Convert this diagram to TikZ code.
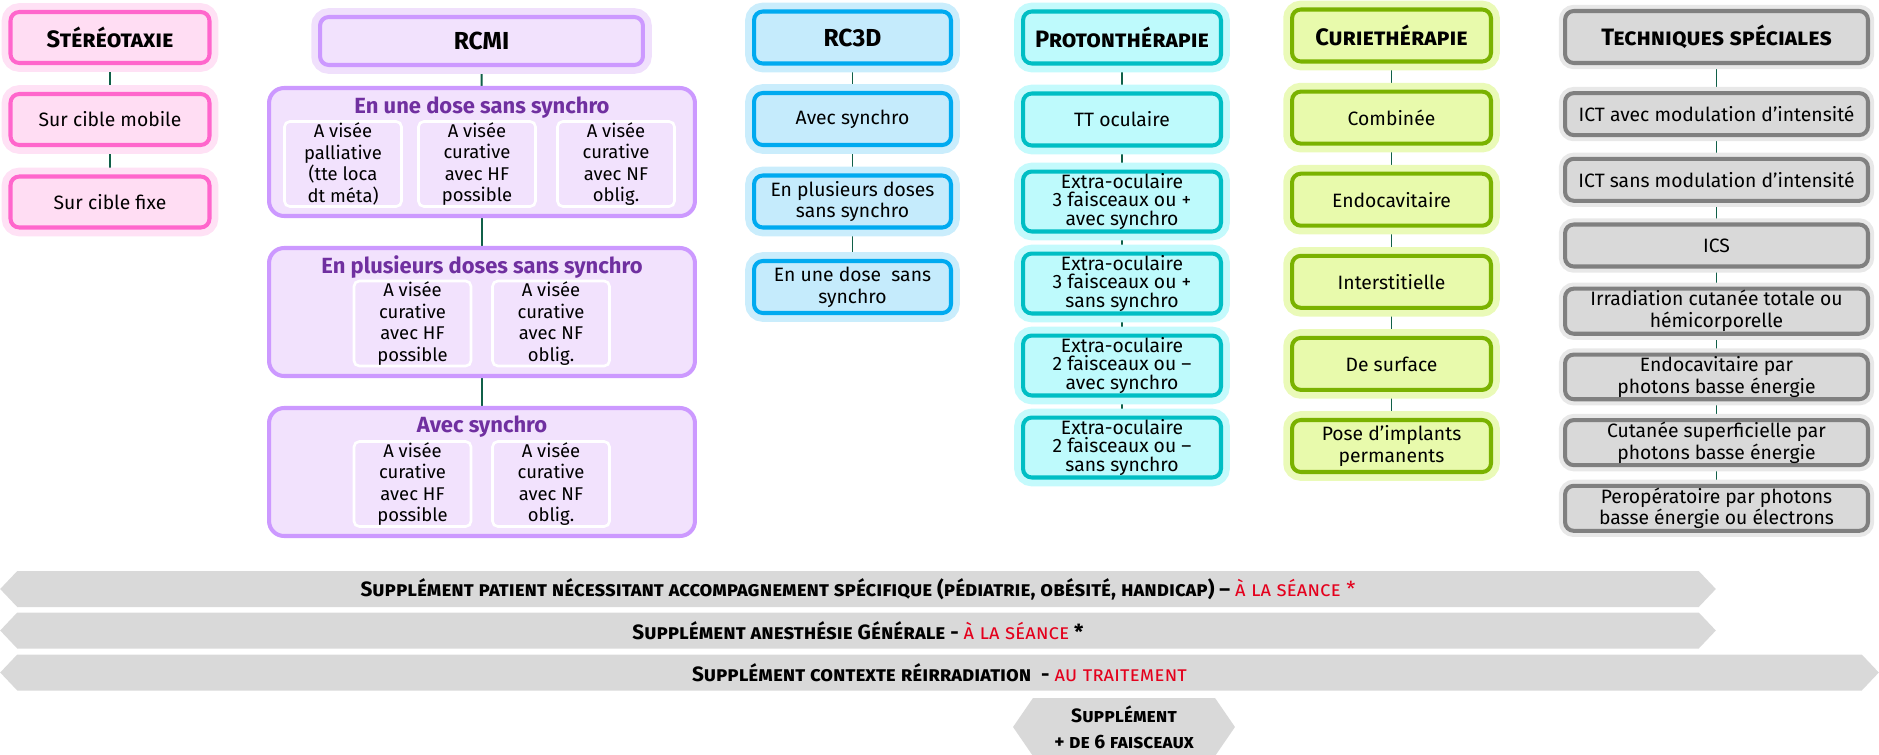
\documentclass[tikz,border=0pt]{standalone}
\usepackage{fontspec}
\setmainfont{Fira Sans}
\usetikzlibrary{positioning,shapes.symbols,backgrounds}
\definecolor{roseB}{RGB}{255,102,204}
\definecolor{roseF}{RGB}{255,221,243}
\definecolor{roseH}{RGB}{255,225,245}
\definecolor{violB}{RGB}{204,153,255}
\definecolor{violF}{RGB}{242,226,253}
\definecolor{violH}{RGB}{240,224,252}
\definecolor{violT}{RGB}{112,48,160}
\definecolor{bleuB}{RGB}{0,170,240}
\definecolor{bleuF}{RGB}{197,235,252}
\definecolor{bleuH}{RGB}{202,237,252}
\definecolor{turqB}{RGB}{0,190,196}
\definecolor{turqF}{RGB}{190,250,252}
\definecolor{turqH}{RGB}{196,250,252}
\definecolor{vertB}{RGB}{122,178,0}
\definecolor{vertF}{RGB}{232,250,172}
\definecolor{vertH}{RGB}{234,250,184}
\definecolor{grisB}{RGB}{128,128,128}
\definecolor{grisF}{RGB}{217,217,217}
\definecolor{grisH}{RGB}{232,232,232}
\definecolor{lienC}{RGB}{16,96,72}
\definecolor{bandeC}{RGB}{217,217,217}
\definecolor{rouge}{RGB}{228,0,28}

\tikzset{
  boite/.style n args={4}{draw=#1, fill=#2, line width=2.3pt, rounded corners=5pt,
    align=center, inner sep=1pt, font=\fontsize{11}{12.5}\selectfont,
    preaction={draw=#3, line width=#4}},
  rose/.style={boite={roseB}{roseF}{roseH}{10pt}, minimum width=3.98cm, minimum height=1.02cm},
  viol/.style={boite={violB}{violF}{violH}{10pt}},
  bleu/.style={boite={bleuB}{bleuF}{bleuH}{10pt}, minimum width=3.94cm, minimum height=1.04cm},
  turq/.style={boite={turqB}{turqF}{turqH}{10pt}, minimum width=3.96cm, minimum height=1.04cm},
  vert/.style={boite={vertB}{vertF}{vertH}{10pt}, minimum width=3.98cm, minimum height=1.04cm},
  gris/.style={boite={grisB}{grisF}{grisH}{7pt}, minimum width=6.06cm},
  titre/.style={font=\fontsize{13.5}{15}\selectfont\bfseries\scshape},
  sigle/.style={font=\fontsize{14}{16}\selectfont\bfseries},
  serre/.style={font=\fontsize{11}{10.6}\selectfont},
  lien/.style={draw=lienC, line width=1.1pt},
  groupe/.style={draw=violB, fill=violF, line width=2.3pt, rounded corners=0.3cm,
    minimum width=8.52cm, minimum height=2.56cm},
  grtitre/.style={text=violT, font=\fontsize{12.5}{14}\selectfont\bfseries},
  sous/.style={draw=white, fill=violF, line width=1.5pt, rounded corners=3pt,
    minimum width=2.34cm, minimum height=1.7cm, align=center, inner sep=0pt,
    font=\fontsize{10.5}{12.3}\selectfont},
  bande/.style={signal, signal to=west and east, signal pointer angle=93, fill=bandeC,
    minimum height=0.72cm, inner sep=0pt, font=\fontsize{11.8}{13}\selectfont\bfseries\scshape}
}

\begin{document}
\begin{tikzpicture}[x=0.02cm,y=-0.02cm]
    \useasboundingbox (0,0) rectangle (1879,754);
    % stereotaxie
    \node[rose, titre] (stereo) at (110,37.5) {Stéréotaxie};
    \node[rose] (stereo1) at (110,119.5) {Sur cible mobile};
    \node[rose] (stereo2) at (110,202) {Sur cible fixe};
    % rcmi
    \node[viol, sigle, minimum width=6.46cm, minimum height=0.96cm] (rcmi) at (481.5,41) {RCMI};
    \node[groupe] (g1) at (482,152) {};
    \node[grtitre] (g1t) at (482,108) {En une dose sans synchro};
    \node[sous] (g1a) at (343,164) {A visée\\palliative\\(tte loca\\dt méta)};
    \node[sous] (g1b) at (477,164) {A visée\\curative\\avec HF\\possible};
    \node[sous] (g1c) at (616,164) {A visée\\curative\\avec NF\\oblig.};
    \node[groupe] (g2) at (482,312) {};
    \node[grtitre] (g2t) at (482,267) {En plusieurs doses sans synchro};
    \node[sous] (g2a) at (412.5,323.5) {A visée\\curative\\avec HF\\possible};
    \node[sous] (g2b) at (551,323.5) {A visée\\curative\\avec NF\\oblig.};
    \node[groupe] (g3) at (482,472) {};
    \node[grtitre] (g3t) at (482,427) {Avec synchro};
    \node[sous] (g3a) at (412.5,484) {A visée\\curative\\avec HF\\possible};
    \node[sous] (g3b) at (551,484) {A visée\\curative\\avec NF\\oblig.};
    % rc3d
    \node[bleu, sigle] (rc3d) at (852.5,37.5) {RC3D};
    \node[bleu] (rc3d1) at (852.5,119) {Avec synchro};
    \node[bleu] (rc3d2) at (852.5,201.5) {En plusieurs doses\\sans synchro};
    \node[bleu] (rc3d3) at (852.5,287) {En une dose\ \ sans\\synchro};
    % protontherapie
    \node[turq, titre] (proto) at (1122,37.5) {Protonthérapie};
    \node[turq] (proto1) at (1122,119.5) {TT oculaire};
    \foreach \txt [count=\i from 2] in {{3 faisceaux ou +\\avec synchro},{3 faisceaux ou +\\sans synchro},
        {2 faisceaux ou --\\avec synchro},{2 faisceaux ou --\\sans synchro}}
      \node[turq, serre] (proto\i) at (1122,{37.5+82*\i}) {Extra-oculaire\\\txt};
    % curietherapie
    \node[vert, titre] (curie) at (1391.5,35.5) {Curiethérapie};
    \foreach \txt [count=\i] in {Combinée,Endocavitaire,Interstitielle,De surface,{Pose d’implants\\permanents}}
      \node[vert] (curie\i) at (1391.5,{35.5+82.1*\i}) {\txt};
    % techniques speciales
    \node[gris, titre, minimum height=1.04cm] (tech) at (1716.5,37) {Techniques spéciales};
    \foreach \txt [count=\i] in {ICT avec modulation d’intensité,ICT sans modulation d’intensité,ICS,
        {Irradiation cutanée totale ou\\hémicorporelle},{Endocavitaire par\\photons basse énergie},
        {Cutanée superficielle par\\photons basse énergie},{Peropératoire par photons\\basse énergie ou électrons}}
      \node[gris, minimum height=0.84cm] (tech\i) at (1716.5,{48.4+65.7*\i}) {\txt};
    % connectors
    \begin{scope}[on background layer]
      \draw[lien] (stereo) -- (stereo1) -- (stereo2);
      \draw[lien] (rcmi) -- (g1) -- (g2) -- (g3);
      \draw[lien] (rc3d) -- (rc3d1) -- (rc3d2) -- (rc3d3);
      \draw[lien] (proto) -- (proto1) -- (proto2) -- (proto3) -- (proto4) -- (proto5);
      \draw[lien] (curie) -- (curie1) -- (curie2) -- (curie3) -- (curie4) -- (curie5);
      \draw[lien] (tech) -- (tech1) -- (tech2) -- (tech3) -- (tech4) -- (tech5) -- (tech6) -- (tech7);
    \end{scope}
    % supplements
    \node[bande, minimum width=34.32cm] (supp1) at (858,589)
      {Supplément patient nécessitant accompagnement spécifique (pédiatrie, obésité, handicap) -- \textcolor{rouge}{\mdseries à la séance *}};
    \node[bande, minimum width=34.32cm] (supp2) at (858,630.5)
      {Supplément anesthésie Générale - \textcolor{rouge}{\mdseries à la séance} *};
    \node[bande, minimum width=37.58cm] (supp3) at (939.5,672.5)
      {Supplément contexte réirradiation\ \ - \textcolor{rouge}{\mdseries au traitement}};
    \node[bande, minimum width=4.44cm, minimum height=1.16cm, signal pointer angle=111, align=center,
      font=\fontsize{11}{15}\selectfont\bfseries\scshape] (supp4) at (1124,727)
      {Supplément\\+ de {\upshape 6} faisceaux};
\end{tikzpicture}
\end{document}
